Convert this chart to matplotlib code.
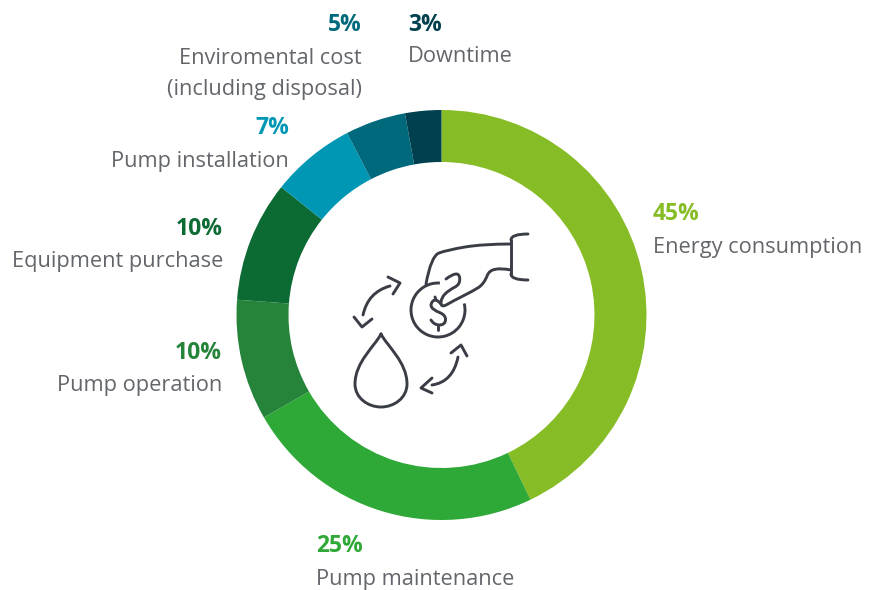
import matplotlib
matplotlib.use('Agg')
import matplotlib.pyplot as plt
from matplotlib.patches import Arc, PathPatch
from matplotlib.path import Path

plt.rcParams['font.family'] = ['Open Sans', 'DejaVu Sans']

W, H = 875, 590

shares = [45, 25, 10, 10, 7, 5, 3]
names = ['Energy consumption', 'Pump maintenance', 'Pump operation', 'Equipment purchase',
         'Pump installation', 'Enviromental cost\n(including disposal)', 'Downtime']
pct_labels = ['45%', '25%', '10%', '10%', '7%', '5%', '3%']
colors = ['#86BC25', '#2EA836', '#26843A', '#0C6A33', '#0097B5', '#006A7C', '#00404F']

fig = plt.figure(figsize=(W / 100, H / 100), dpi=100)
ax = fig.add_axes([0, 0, 1, 1])

cx, cy, r = 441.5, 315, 205
# y axis runs downward here, so counterclock in data is clockwise on screen
ax.pie(shares, colors=colors, startangle=-90, counterclock=True, center=(cx, cy), radius=r,
       wedgeprops=dict(width=r - 153, linewidth=0), frame=False)
ax.set_xlim(0, W)
ax.set_ylim(H, 0)
ax.set_aspect('equal')
ax.axis('off')

# label anchors: x, y of pct, y of name, alignment
label_pos = [(653, 214, 247, 'left'), (316, 546, 579, 'left'), (222, 353, 386, 'right'),
             (223, 229, 262, 'right'), (289, 128, 161, 'right'), (362, 25, 74, 'right'),
             (408, 25, 57, 'left')]
for (x, yp, yn, ha), p, n, c in zip(label_pos, pct_labels, names, colors):
    ax.text(x, yp, p, color=c, fontsize=16.5, fontweight='bold', ha=ha, va='center')
    ax.text(x, yn, n, color='#63666A', fontsize=15.7, ha=ha, va='center', linespacing=1.65)

# icon
ink = '#3A3D45'
lw = 2.1
M, L, C3, C4 = Path.MOVETO, Path.LINETO, Path.CURVE3, Path.CURVE4


def stroke(verts, codes):
    ax.add_patch(PathPatch(Path(verts, codes), fill=False, ec=ink, lw=lw, capstyle='round', joinstyle='round'))


def poly(pts):
    stroke(pts, [M] + [L] * (len(pts) - 1))


def bend(pts):
    # pts: start, then control/end pairs
    stroke(pts, [M] + [C3] * (len(pts) - 1))


def smooth(pts):
    # quadratic pieces through the midpoints of a control polygon
    verts = [pts[0]]
    for a, b in zip(pts[1:-1], pts[2:]):
        verts += [a, ((a[0] + b[0]) / 2, (a[1] + b[1]) / 2)]
    verts[-1] = pts[-1]
    stroke(verts, [M] + [C3] * (len(verts) - 1))


# water drop
stroke([(381, 334), (375, 346), (355, 362), (355, 384), (355, 398), (368, 407), (381, 407),
        (394, 407), (407, 398), (407, 384), (407, 362), (387, 346), (381, 334)],
       [M] + [C4] * 12)
# coin
ax.add_patch(Arc((438, 310), 54, 54, theta1=-14, theta2=274, ec=ink, lw=lw))
# dollar sign
smooth([(441, 304), (436, 298), (430, 304), (433, 310), (446, 315), (445, 325), (434, 325), (431, 320)])
poly([(435, 297), (436, 300)])
poly([(438, 326), (438, 330)])
# cuff
smooth([(528, 234), (511, 234), (511, 240)])
poly([(511, 240), (511, 274)])
smooth([(511, 274), (511, 280), (528, 280)])
# hand
smooth([(511, 244), (483, 244), (447, 250), (431, 256), (426, 284)])
smooth([(511, 270), (491, 266), (484, 284), (473, 291), (453, 301), (441, 308), (441, 298),
        (449, 290), (461, 284), (458, 270), (446, 279)])
# arrows
bend([(363, 315), (368, 292), (390, 286)])
poly([(388, 277), (400, 283), (393, 294)])
poly([(354, 317), (362, 327), (372, 319)])
bend([(458, 357), (453, 382), (432, 385)])
poly([(451, 353), (461, 345), (467, 356)])
poly([(432, 378), (421, 388), (432, 393)])

fig.savefig('out.png', dpi=100)
